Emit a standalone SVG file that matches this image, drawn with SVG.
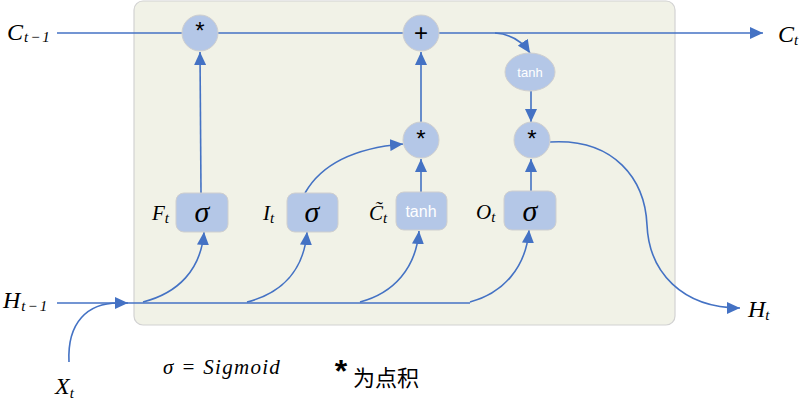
<svg xmlns="http://www.w3.org/2000/svg" width="804" height="416" viewBox="0 0 804 416">
<defs>
<marker id="ah" markerUnits="userSpaceOnUse" markerWidth="14" markerHeight="12" refX="13" refY="6" orient="auto">
<path d="M0,0 L13,6 L0,12 Z" fill="#4472c4"/>
</marker>
<style>
.ln{fill:none;stroke:#4472c4;stroke-width:1.6}
.op{fill:#b4c7e7;stroke:#cfcfcf;stroke-width:1}
.m{font-family:"Liberation Serif","DejaVu Serif",serif;font-style:italic;fill:#000}
.sub{font-size:15px}
.sym{font-family:"Liberation Sans","DejaVu Sans",sans-serif;fill:#000;text-anchor:middle}
.wt{font-family:"Liberation Sans","DejaVu Sans",sans-serif;fill:#fff;text-anchor:middle}
</style>
</defs>
<rect id="cell" x="134" y="1" width="541" height="324" rx="9" fill="#f1f2e7" stroke="#d2d2d2" stroke-width="1.2"/>
<g id="connectors">
<path class="ln" d="M57,33 H763" marker-end="url(#ah)"/>
<path class="ln" d="M57,303 H128" marker-end="url(#ah)"/>
<path class="ln" d="M120,303 H470"/>
<path class="ln" d="M69,362 C67,322 88,303 118,303"/>
<path class="ln" d="M143,302 C178,293 201,270 204,232" marker-end="url(#ah)"/>
<path class="ln" d="M247,302 C282,293 304,270 307,232" marker-end="url(#ah)"/>
<path class="ln" d="M360,302 C394,293 416,268 419,231" marker-end="url(#ah)"/>
<path class="ln" d="M470,302 C503,293 526,268 529,230" marker-end="url(#ah)"/>
<path class="ln" d="M201,193 L200,52" marker-end="url(#ah)"/>
<path class="ln" d="M305,193 C322,163 355,148 403,144" marker-end="url(#ah)"/>
<path class="ln" d="M421,192 V159" marker-end="url(#ah)"/>
<path class="ln" d="M421,122 V52" marker-end="url(#ah)"/>
<path class="ln" d="M495,33 C510,34 522,41 530,53" marker-end="url(#ah)"/>
<path class="ln" d="M531,91 V122" marker-end="url(#ah)"/>
<path class="ln" d="M531,191 V159" marker-end="url(#ah)"/>
<path class="ln" d="M550,142 C615,138 645,180 647,225 C649,272 682,308 740,308" marker-end="url(#ah)"/>
</g>
<g id="mul1"><circle class="op" cx="200" cy="33" r="18"/><text class="sym" x="200" y="39" font-size="24">*</text></g>
<g id="add"><circle class="op" cx="421" cy="33" r="18"/><text class="sym" x="421" y="41" font-size="24">+</text></g>
<g id="mul2"><circle class="op" cx="421" cy="140" r="18"/><text class="sym" x="421" y="147" font-size="24">*</text></g>
<g id="mul3"><circle class="op" cx="532" cy="140" r="18"/><text class="sym" x="532" y="147" font-size="24">*</text></g>
<g id="tanh2"><ellipse class="op" cx="530" cy="72" rx="25" ry="19"/><text class="wt" x="530" y="77" font-size="13">tanh</text></g>
<g id="gateF"><rect class="op" x="176" y="193" width="52" height="39" rx="8"/><text class="m" x="202" y="222" font-size="30" text-anchor="middle">σ</text></g>
<g id="gateI"><rect class="op" x="287" y="193" width="51" height="39" rx="8"/><text class="m" x="312" y="222" font-size="30" text-anchor="middle">σ</text></g>
<g id="gateC"><rect class="op" x="396" y="192" width="51" height="38" rx="8"/><text class="wt" x="421" y="217" font-size="16">tanh</text></g>
<g id="gateO"><rect class="op" x="504" y="191" width="52" height="39" rx="8"/><text class="m" x="530" y="221" font-size="30" text-anchor="middle">σ</text></g>
<g id="labels">
<text class="m" x="7" y="40" font-size="24" letter-spacing="1">C<tspan class="sub" dy="2" letter-spacing="2">t−1</tspan></text>
<text class="m" x="778" y="42" font-size="24">C<tspan class="sub" dy="3">t</tspan></text>
<text class="m" x="3" y="308" font-size="24" letter-spacing="1">H<tspan class="sub" dy="3" letter-spacing="2">t−1</tspan></text>
<text class="m" x="748" y="317" font-size="24">H<tspan class="sub" dy="3">t</tspan></text>
<text class="m" x="55" y="394" font-size="24">X<tspan class="sub" dy="4">t</tspan></text>
<text class="m" x="152" y="220" font-size="21">F<tspan class="sub" dy="3">t</tspan></text>
<text class="m" x="263" y="220" font-size="21">I<tspan class="sub" dy="3">t</tspan></text>
<text class="m" x="369" y="220" font-size="21">C&#771;<tspan class="sub" dy="3">t</tspan></text>
<text class="m" x="476" y="219" font-size="21">O<tspan class="sub" dy="3">t</tspan></text>
<text class="m" x="163" y="374" font-size="21" letter-spacing="1.3">σ = Sigmoid</text>
<text class="sym" x="341" y="382" font-size="32" font-weight="bold">*</text>
<text x="353" y="386" font-size="22" font-family="'Noto Sans CJK SC',sans-serif" fill="#000">为点积</text>
</g>
</svg>
